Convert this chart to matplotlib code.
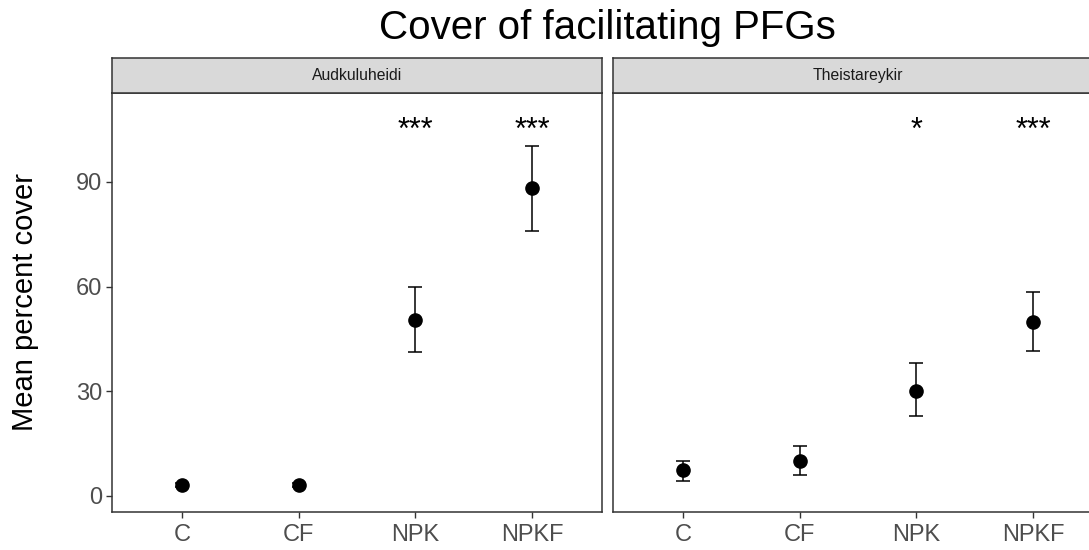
"""Cover of facilitating PFGs: mean percent cover per treatment, faceted by site."""

import matplotlib
matplotlib.use('Agg')
import matplotlib.pyplot as plt

plt.rcParams['font.family'] = ['Liberation Sans', 'DejaVu Sans']

TREATMENTS = ['C', 'CF', 'NPK', 'NPKF']
SITES = ['Audkuluheidi', 'Theistareykir']

aud_mean = [3.2, 3.1, 50.3, 88.2]
aud_lo = [2.6, 2.6, 41.3, 76.0]
aud_hi = [3.7, 3.6, 59.8, 100.2]
aud_sig = ['', '', '***', '***']

the_mean = [7.3, 9.9, 30.1, 49.9]
the_lo = [4.4, 6.1, 22.8, 41.6]
the_hi = [10.0, 14.3, 38.0, 58.5]
the_sig = ['', '', '*', '***']

Y_TICKS = [0, 30, 60, 90]

W, H = 1089, 550
BORDER = '#333333'
TICKTXT = '#4D4D4D'

fig = plt.figure(figsize=(W / 100, H / 100), dpi=100)

panel_w = 490 / W
panel_bottom = 1 - 512 / H
panel_h = (512 - 93) / H
strip_h = 35 / H
lefts = [112 / W, 613 / W]

panels = [
    (SITES[0], aud_mean, aud_lo, aud_hi, aud_sig),
    (SITES[1], the_mean, the_lo, the_hi, the_sig),
]

for i, (site, mean, lo, hi, sig) in enumerate(panels):
    ax = fig.add_axes([lefts[i], panel_bottom, panel_w, panel_h])
    x = list(range(1, len(TREATMENTS) + 1))
    yerr = [[m - l for m, l in zip(mean, lo)], [h - m for m, h in zip(mean, hi)]]
    ax.errorbar(x, mean, yerr=yerr, fmt='none', ecolor='black', elinewidth=1.1,
                capsize=4.7, capthick=1.1, zorder=2)
    ax.plot(x, mean, 'o', color='black', markersize=9.5, zorder=3)
    for xi, s in zip(x, sig):
        if s:
            # asterisks above the treatment that differs from control
            ax.text(xi, 102.2, s, ha='center', va='baseline', fontsize=22,
                    color='black')

    ax.set_xlim(0.4, 4.6)
    ax.set_ylim(-4.6, 115.5)
    ax.set_xticks(x)
    ax.set_xticklabels(TREATMENTS)
    ax.tick_params(axis='x', length=4.3, width=1.0, color=BORDER, labelsize=17,
                   labelcolor=TICKTXT, pad=4)
    if i == 0:
        ax.set_yticks(Y_TICKS)
        ax.tick_params(axis='y', length=4.3, width=1.0, color=BORDER, labelsize=17,
                       labelcolor=TICKTXT, pad=3)
    else:
        ax.set_yticks([])
    for sp in ax.spines.values():
        sp.set_color(BORDER)
        sp.set_linewidth(1.1)

    strip = fig.add_axes([lefts[i], panel_bottom + panel_h, panel_w, strip_h])
    strip.set_facecolor('#D9D9D9')
    strip.set_xticks([])
    strip.set_yticks([])
    for sp in strip.spines.values():
        sp.set_color(BORDER)
        sp.set_linewidth(1.1)
    strip.text(0.5, 0.5, site, ha='center', va='center', fontsize=11.3,
               color='#1A1A1A', transform=strip.transAxes)

fig.text(607 / W, 1 - 39 / H, 'Cover of facilitating PFGs', ha='center',
         va='baseline', fontsize=29, color='black')
fig.text(25 / W, 1 - 302 / H, 'Mean percent cover', rotation=90, ha='center',
         va='center', fontsize=21, color='black')

fig.savefig('out.png', dpi=100)
